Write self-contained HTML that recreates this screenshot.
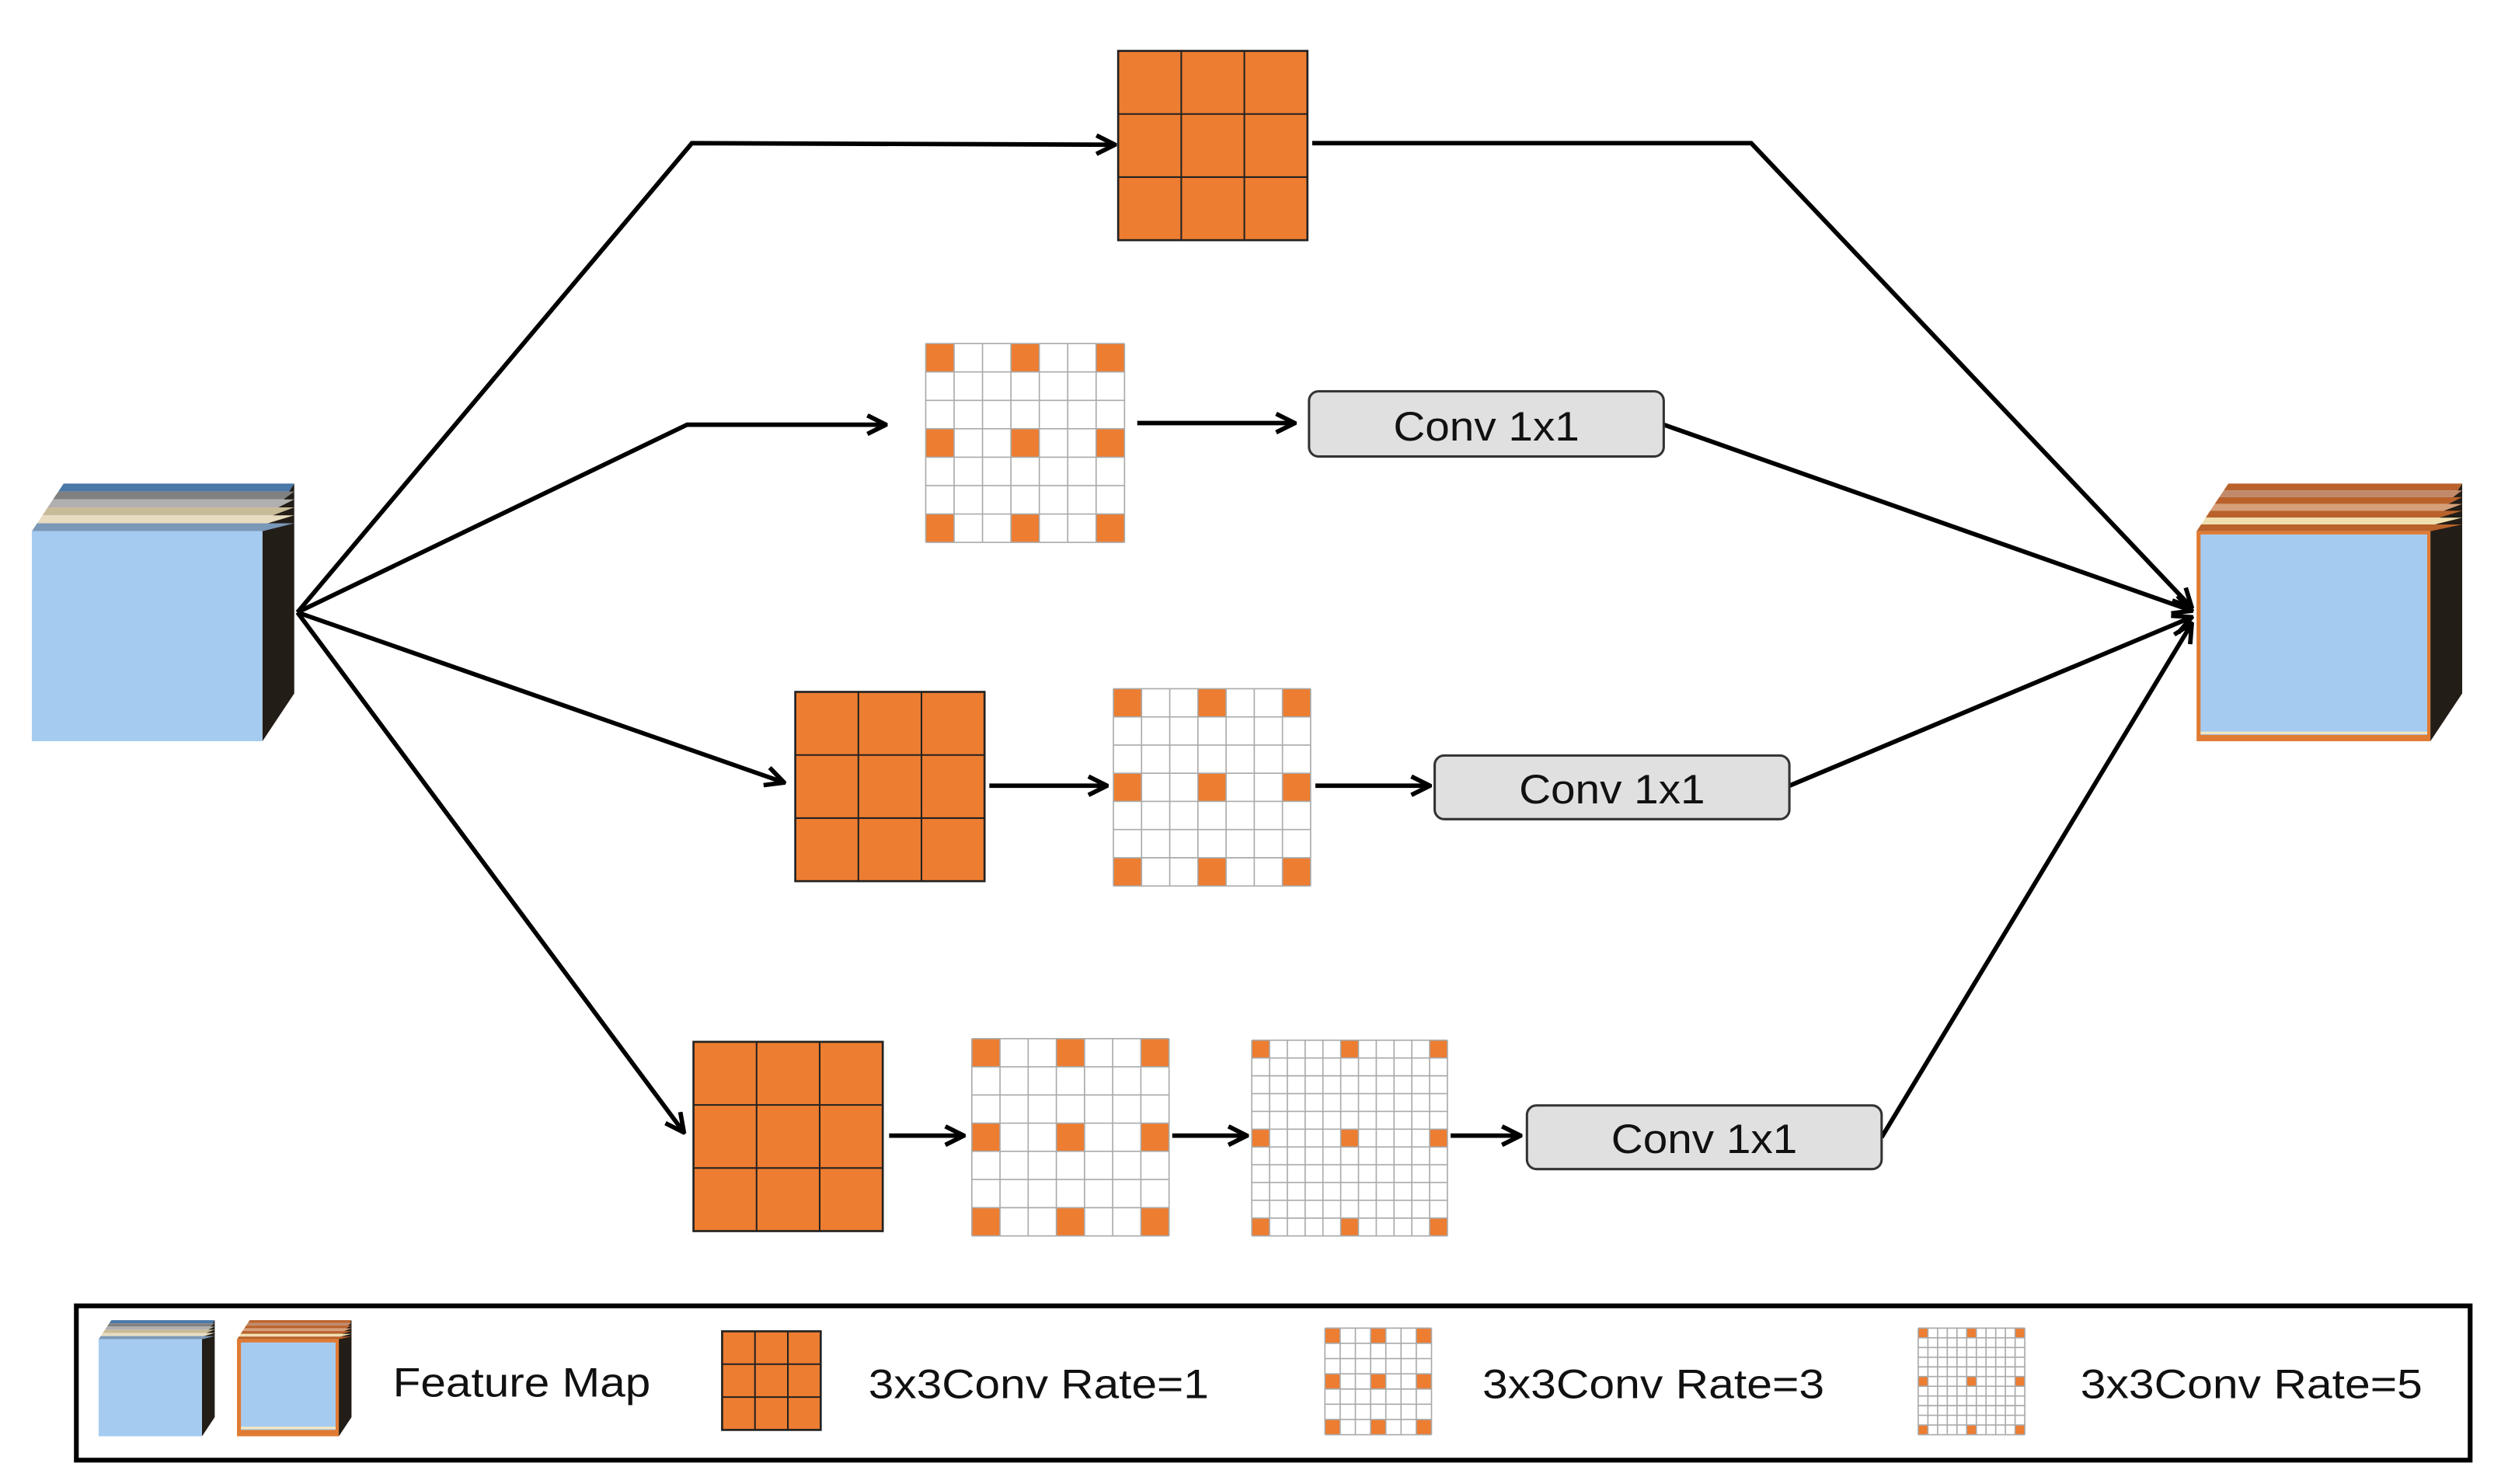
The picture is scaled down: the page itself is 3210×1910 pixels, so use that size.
<!DOCTYPE html>
<html><head><meta charset="utf-8"><style>
html,body{margin:0;padding:0;background:#fff;}
svg{display:block;}
text{font-family:"Liberation Sans",sans-serif;fill:#111;}
</style></head><body>
<svg id="s" width="3210" height="1910" viewBox="0 0 1568 933" preserveAspectRatio="none" xmlns="http://www.w3.org/2000/svg">
<defs>
<marker id="a" viewBox="0 0 12 12" refX="11" refY="6" markerWidth="14" markerHeight="14" markerUnits="userSpaceOnUse" orient="auto">
<path d="M1,1 L11,6 L1,11" fill="none" stroke="#000" stroke-width="2.4"/>
</marker>
</defs>
<g id="g"></g>
<g fill="none" stroke="#000" stroke-width="2.8">
<polyline points="187,385 435,90 701,91" marker-end="url(#a)"/>
<polyline points="825,90 1101,90 1378,382" marker-end="url(#a)"/>
<polyline points="187,385 432,267 557,267" marker-end="url(#a)"/>
<polyline points="1046,267 1378,384" marker-end="url(#a)"/>
<polyline points="187,385 493,492" marker-end="url(#a)"/>
<polyline points="1125,494 1378,388" marker-end="url(#a)"/>
<polyline points="187,385 430,712" marker-end="url(#a)"/>
<polyline points="1183,715 1378,392" marker-end="url(#a)"/>
<line x1="715" y1="266" x2="814" y2="266" marker-end="url(#a)"/>
<line x1="622" y1="494" x2="696" y2="494" marker-end="url(#a)"/>
<line x1="827" y1="494" x2="899" y2="494" marker-end="url(#a)"/>
<line x1="559" y1="714" x2="606" y2="714" marker-end="url(#a)"/>
<line x1="737" y1="714" x2="784" y2="714" marker-end="url(#a)"/>
<line x1="912" y1="714" x2="956" y2="714" marker-end="url(#a)"/>
</g>
<g fill="#e0e0e0" stroke="#333" stroke-width="1.5">
<rect x="823" y="246" width="223" height="41" rx="6"/>
<rect x="902" y="475" width="223" height="40" rx="6"/>
<rect x="960" y="695" width="223" height="40" rx="6"/>
</g>
<g font-size="26">
<text x="876" y="277" textLength="117" lengthAdjust="spacingAndGlyphs">Conv 1x1</text>
<text x="955" y="505" textLength="117" lengthAdjust="spacingAndGlyphs">Conv 1x1</text>
<text x="1013" y="725" textLength="117" lengthAdjust="spacingAndGlyphs">Conv 1x1</text>
</g>
<rect x="48" y="821" width="1505" height="97" fill="none" stroke="#000" stroke-width="3"/>
<g font-size="26">
<text x="247" y="878" textLength="162" lengthAdjust="spacingAndGlyphs">Feature Map</text>
<text x="546" y="879" textLength="214" lengthAdjust="spacingAndGlyphs">3x3Conv Rate=1</text>
<text x="932" y="879" textLength="215" lengthAdjust="spacingAndGlyphs">3x3Conv Rate=3</text>
<text x="1308" y="879" textLength="215" lengthAdjust="spacingAndGlyphs">3x3Conv Rate=5</text>
</g>
</svg>
<script>
var g=document.getElementById('g'),h='';
function r(x,y,w,ht,f,s,sw){h+='<rect x="'+x+'" y="'+y+'" width="'+w+'" height="'+ht+'" fill="'+f+'"'+(s?' stroke="'+s+'" stroke-width="'+sw+'"':'')+'/>';}
function k3(x,y,sz){r(x,y,sz,sz,'#ed7d31','#222',1.3);var c=sz/3;for(var i=1;i<3;i++){h+='<line x1="'+(x+c*i)+'" y1="'+y+'" x2="'+(x+c*i)+'" y2="'+(y+sz)+'" stroke="#222" stroke-width="1"/>';h+='<line x1="'+x+'" y1="'+(y+c*i)+'" x2="'+(x+sz)+'" y2="'+(y+c*i)+'" stroke="#222" stroke-width="1"/>';}}
function dil(x,y,sz,n,step){var c=sz/n;r(x,y,sz,sz,'#fff');for(var i=0;i<n;i+=step)for(var j=0;j<n;j+=step)r(x+c*i,y+c*j,c,c,'#ed7d31');for(var i=0;i<=n;i++){h+='<line x1="'+(x+c*i)+'" y1="'+y+'" x2="'+(x+c*i)+'" y2="'+(y+sz)+'" stroke="#aaa" stroke-width="0.8"/>';h+='<line x1="'+x+'" y1="'+(y+c*i)+'" x2="'+(x+sz)+'" y2="'+(y+c*i)+'" stroke="#aaa" stroke-width="0.8"/>';}}
function cube(x,y,w,ht,d,top,orange){var t=y-d*1.5;
h+='<polygon points="'+(x+w)+','+y+' '+(x+w+d)+','+t+' '+(x+w+d)+','+(y+ht-d*1.5)+' '+(x+w)+','+(y+ht)+'" fill="#231d17"/>';
var cols=orange?['#b9622b','#c08a6a','#b9622b','#d69f7a','#b9622b','#f0e0b0','#b9622b']:['#4a78a8','#808080','#b0b0b0','#c8bc98','#e8dcc0','#7a98b8'];
var n=cols.length;for(var i=0;i<n;i++){var y0=t+(y-t)*i/n,y1=t+(y-t)*(i+1)/n,s0=d*(1-i/n),s1=d*(1-(i+1)/n);
h+='<polygon points="'+(x+s0)+','+y0+' '+(x+w+d)+','+y0+' '+(x+w+d-(d-s1))+','+y1+' '+(x+s1)+','+y1+'" fill="'+cols[i]+'"/>';}
if(orange){r(x,y,w,ht,'#e07b33');r(x+2.5,y+2,w-4.5,ht-6,'#a6cbf0');r(x+2.5,y+ht-6,w-4.5,1.5,'#f5e8c0');}else r(x,y,w,ht,'#a6cbf0');}
cube(20,334,145,132,20,0,false);
cube(1381,334,147,132,20,0,true);
k3(703,32,119);dil(582,216,125,7,3);k3(500,435,119);dil(700,433,124,7,3);
k3(436,655,119);dil(611,653,124,7,3);dil(787,654,123,11,5);
cube(62,842,65,61,8,0,false);cube(149,842,64,61,8,0,true);
k3(454,837,62);dil(833,835,67,7,3);dil(1206,835,67,11,5);
g.innerHTML=h;
</script>
</body></html>
